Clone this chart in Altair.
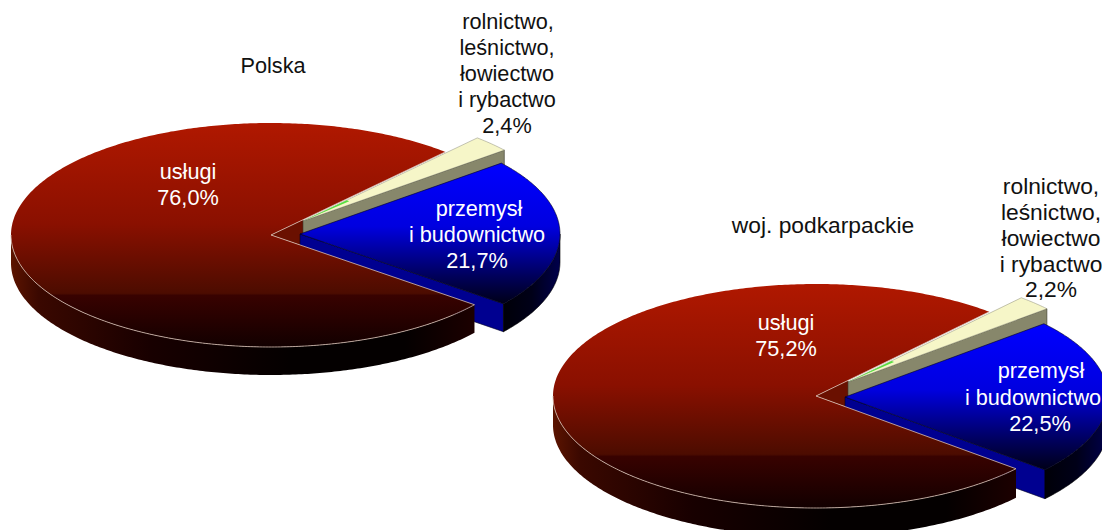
import math
import altair as alt
import pandas as pd

# ---- values ----
names = ["usługi", "rolnictwo, leśnictwo, łowiectwo i rybactwo", "przemysł i budownictwo"]
polska = [76.0, 2.4, 21.7]
podkarpackie = [75.2, 2.2, 22.5]

text_black_1 = [
    ("Polska", 273, 66), ("rolnictwo,", 508, 22), ("leśnictwo,", 507, 48), ("łowiectwo", 507, 74),
    ("i rybactwo", 507, 100), ("2,4%", 507, 126),
]
text_black_2 = [
    ("woj. podkarpackie", 823, 226), ("rolnictwo,", 1051, 187), ("leśnictwo,", 1051, 213),
    ("łowiectwo", 1051, 239), ("i rybactwo", 1051, 265), ("2,2%", 1051, 290),
]
text_white = [
    ("usługi", 188, 172), ("76,0%", 188, 198), ("przemysł", 479, 209), ("i budownictwo", 477, 235),
    ("21,7%", 477, 261), ("usługi", 786, 323), ("75,2%", 786, 349), ("przemysł", 1041, 371),
    ("i budownictwo", 1033, 398), ("22,5%", 1040, 424),
]


def grad(stops, horizontal=False):
    return {
        "gradient": "linear",
        "x1": 0, "y1": 0,
        "x2": 1 if horizontal else 0, "y2": 0 if horizontal else 1,
        "stops": [{"offset": o, "color": c} for o, c in stops],
    }


RED_TOP = grad([(0, "#b01800"), (0.45, "#8a1000"), (0.76, "#4c0c00"), (0.77, "#380200"), (1, "#120000")])
RED_WALL = grad([(0, "#5c1400"), (0.06, "#3a0800"), (0.3, "#180000"), (0.6, "#040000"), (0.85, "#040000"), (1, "#1c0000")], True)
BLUE_TOP = grad([(0, "#0000ff"), (0.45, "#0000e0"), (0.8, "#00005c"), (1, "#000018")])
BLUE_WALL = grad([(0, "#000008"), (0.5, "#000018"), (1, "#00004c")], True)


def pt(c, rx, ry, deg, k=1.0):
    a = math.radians(deg)
    return c[0] + k * rx * math.cos(a), c[1] + k * ry * math.sin(a)


def arc(c, rx, ry, a0, a1, k=1.0):
    n = max(2, int(abs(a1 - a0) * 1.5))
    return [pt(c, rx, ry, a0 + (a1 - a0) * i / n, k) for i in range(n + 1)]


def wedge(c, rx, ry, a0, a1, k=1.0):
    return [c] + arc(c, rx, ry, a0, a1, k) + [c]


def drop(pts, d):
    return [(x, y + d) for x, y in pts]


def band(pts, d):
    return pts + drop(pts, d)[::-1] + pts[:1]


xs = alt.Scale(domain=[8, 1102], nice=False, zero=False)
ys = alt.Scale(domain=[530, 8], nice=False, zero=False)
layers = []


def shape(pts, fill=None, stroke=None, sw=0.6):
    df = pd.DataFrame({"x": [p[0] for p in pts], "y": [p[1] for p in pts], "i": range(len(pts))})
    kw = {"strokeWidth": sw}
    if fill is not None:
        kw["fill"] = fill
    kw["stroke"] = stroke if stroke else "transparent"
    layers.append(
        alt.Chart(df).mark_line(clip=True, **kw).encode(
            x=alt.X("x:Q", scale=xs, axis=None),
            y=alt.Y("y:Q", scale=ys, axis=None),
            order="i:Q",
        )
    )


def pie(values, start, c, rx, ry, depth, tan_off, blue_off):
    red, agri, blue = values
    total = 100.0
    r1 = start + 360 * red / total
    a1 = r1 + 360 * agri / total
    b1 = start + 360
    tc = (c[0] + tan_off[0], c[1] + tan_off[1])
    bc = (c[0] + blue_off[0], c[1] + blue_off[1])

    # inner face seen in the notch of the big slice
    shape(wedge(c, rx, ry, start, r1 - 360, 0.18), fill="#6a1000")

    # agriculture slice
    tan_edge = [tc, pt(tc, rx, ry, a1)]
    shape(band(tan_edge, depth), fill="#87876b", stroke="#3a3a2c")
    shape(wedge(tc, rx, ry, r1, a1), fill="#f6f6c8", stroke="#8a8a78", sw=0.5)
    shape(wedge(tc, rx, ry, r1 + 0.3, r1 + 3.2, 0.25), fill="#55e040")

    # industry slice
    blue_cut = [bc, pt(bc, rx, ry, start)]
    shape(band(blue_cut, depth), fill="#000090", stroke="#000020")
    shape(band(arc(bc, rx, ry, 0, start), depth), fill=BLUE_WALL, stroke="#000000")
    shape(wedge(bc, rx, ry, a1, b1), fill=BLUE_TOP, stroke="#000020")

    # services slice
    red_front = arc(c, rx, ry, start, 180)
    shape(band(red_front, depth), fill=RED_WALL)
    shape(wedge(c, rx, ry, start, r1), fill=RED_TOP)
    shape(arc(c, rx, ry, 180, start) + [c, pt(c, rx, ry, r1)], stroke="#d8c0b4", sw=0.8)


pie(polska, 38.5, (271, 235), 260, 112, 28, (32, -14), (29, -1))
pie(podkarpackie, 40.5, (816, 396), 263, 112, 29, (32, -14), (29, 1))


def labels(rows, color, size):
    df = pd.DataFrame(rows, columns=["t", "x", "y"])
    return alt.Chart(df).mark_text(
        font="Liberation Sans", fontSize=size, color=color, align="center", baseline="middle", clip=True
    ).encode(
        x=alt.X("x:Q", scale=xs, axis=None),
        y=alt.Y("y:Q", scale=ys, axis=None),
        text="t:N",
    )


layers += [
    labels(text_black_1, "#111111", 21.7),
    labels(text_black_2, "#111111", 22.8),
    labels(text_white, "#ffffff", 21.7),
]

chart = (
    alt.layer(*layers)
    .properties(width=1094, height=522, padding=0, autosize=alt.AutoSizeParams(type="none"), background="white")
    .configure_view(stroke=None)
)
chart.save("out.html", embed_options={"renderer": "svg", "actions": False})
